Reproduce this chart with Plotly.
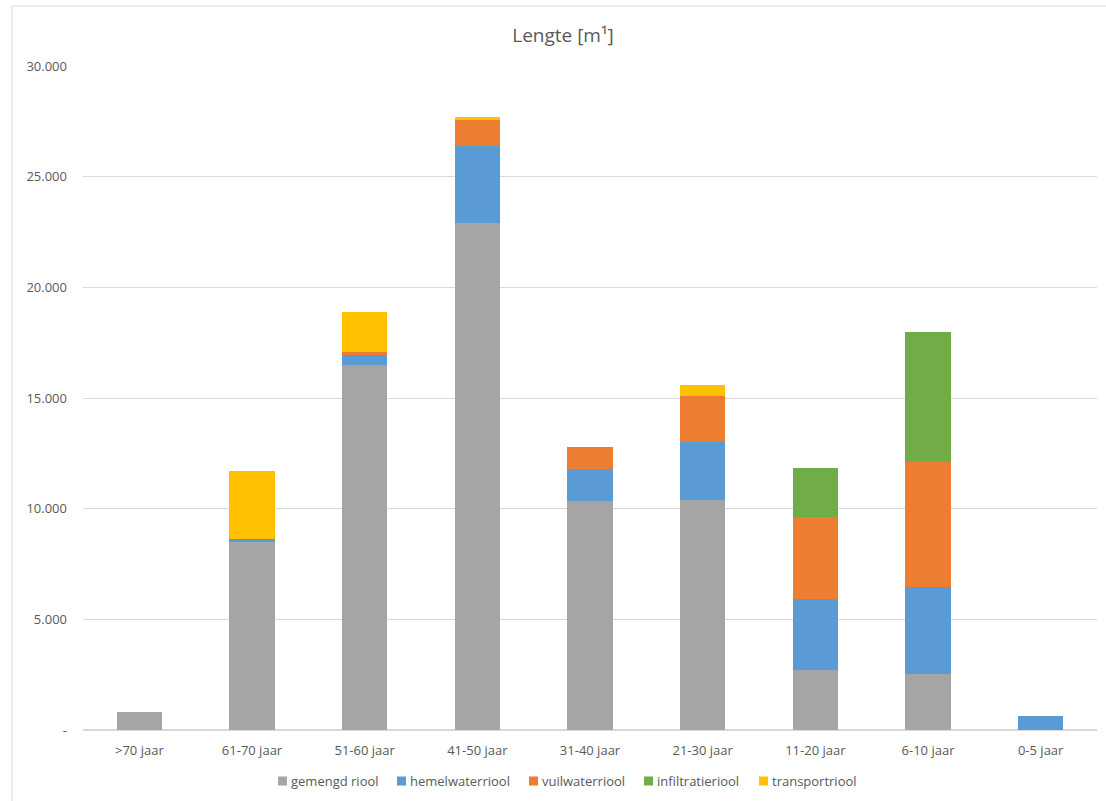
import plotly.graph_objects as go

categories = [">70 jaar", "61-70 jaar", "51-60 jaar", "41-50 jaar", "31-40 jaar",
              "21-30 jaar", "11-20 jaar", "6-10 jaar", "0-5 jaar"]
gemengd = [800, 8480, 16500, 22920, 10330, 10370, 2690, 2510, 0]
hemelwater = [0, 170, 450, 3450, 1460, 2620, 3250, 3930, 650]
vuilwater = [0, 0, 130, 1200, 980, 2080, 3700, 5670, 0]
infiltratie = [0, 0, 0, 0, 0, 0, 2220, 5860, 0]
transport = [0, 3040, 1800, 120, 0, 530, 0, 0, 0]

series_names = ["gemengd riool", "hemelwaterriool", "vuilwaterriool",
                "infiltratieriool", "transportriool"]
series_values = [gemengd, hemelwater, vuilwater, infiltratie, transport]
series_colors = ["#a5a5a5", "#5b9bd5", "#ed7d31", "#70ad47", "#ffc000"]

ytickvals = [0, 5000, 10000, 15000, 20000, 25000, 30000]
yticktext = ["-", "5.000", "10.000", "15.000", "20.000", "25.000", "30.000"]

fig = go.Figure()
for name, vals, col in zip(series_names, series_values, series_colors):
    fig.add_trace(go.Bar(x=categories, y=vals, name=name, marker_color=col,
                         marker_line_width=0, showlegend=False))

font_color = "#595959"
FONT = "Open Sans, Liberation Sans, sans-serif"
L, R, T, B = 83, 9, 66, 71
W, H = 1106, 801
pw = W - L - R
ph = H - T - B


def px_x(x):
    return (x - L) / pw


def px_y(y):
    return (H - B - y) / ph


shapes = [dict(type="rect", xref="paper", yref="paper",
               x0=px_x(12), x1=px_x(W + 5), y0=px_y(H + 5), y1=px_y(6),
               line=dict(color="#d9d9d9", width=1), layer="below")]
annotations = []
# custom legend (square + text), positions in pixels
legend_x = [278, 397, 529, 644, 759]
legend_yc = 781
for xs, name, col in zip(legend_x, series_names, series_colors):
    shapes.append(dict(type="rect", xref="paper", yref="paper",
                       x0=px_x(xs), x1=px_x(xs + 9),
                       y0=px_y(legend_yc + 4.5), y1=px_y(legend_yc - 4.5),
                       fillcolor=col, line=dict(width=0)))
    annotations.append(dict(text=name, xref="paper", yref="paper",
                            x=px_x(xs + 11), y=px_y(legend_yc), xanchor="left",
                            yanchor="middle", showarrow=False,
                            font=dict(family=FONT, size=13, color=font_color)))

fig.update_layout(
    width=W, height=H,
    barmode="stack", bargap=0.6,
    margin=dict(l=L, r=R, t=T, b=B, autoexpand=False),
    paper_bgcolor="white", plot_bgcolor="white",
    font=dict(family=FONT, size=13, color=font_color),
    title=dict(text="Lengte [m¹]", x=563 / W, xanchor="center", y=1 - 35 / H,
               yanchor="middle", font=dict(size=19, color=font_color)),
    xaxis=dict(showgrid=False, showline=True, linecolor="#d9d9d9", ticks="",
               ticklabelstandoff=8, tickfont=dict(size=13, color=font_color)),
    yaxis=dict(range=[0, 30000], tickvals=ytickvals, ticktext=yticktext,
               showgrid=True, gridcolor="#d9d9d9", zeroline=True, zerolinecolor="#d9d9d9",
               ticks="", ticklabelstandoff=15, tickfont=dict(size=13, color=font_color)),
    showlegend=False,
    shapes=shapes,
    annotations=annotations,
)

fig.write_html("out.html")
